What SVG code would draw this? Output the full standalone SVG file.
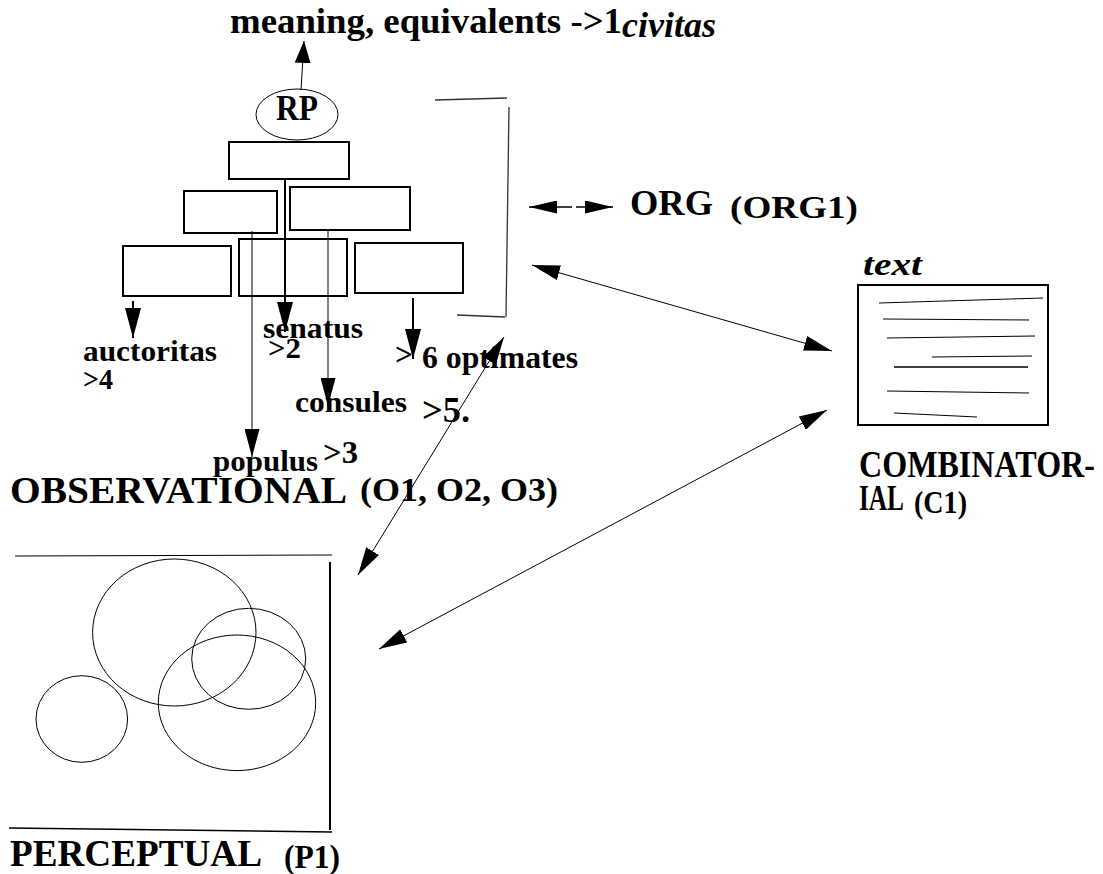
<svg xmlns="http://www.w3.org/2000/svg" width="1103" height="874" viewBox="0 0 1103 874">
  <style>
    .t { font-family: "Liberation Serif", "Times New Roman", serif; font-weight: bold; fill: #000; }
    .it { font-style: italic; }
    .box { fill: none; stroke: #000; stroke-width: 2; }
    .thin { fill: none; stroke: #000; stroke-width: 1; }
    .bracket { fill: none; stroke: #333; stroke-width: 1.3; }
    .stem { fill: none; stroke: #000; stroke-width: 2; }
  </style>
  <defs>
    <marker id="head" markerUnits="userSpaceOnUse" viewBox="0 0 30 16" markerWidth="30" markerHeight="16" refX="30" refY="8" orient="auto-start-reverse">
      <path d="M0,0 L30,8 L0,16 Z" fill="#000"/>
    </marker>
    <marker id="headThin" markerUnits="userSpaceOnUse" viewBox="0 0 28 15" markerWidth="28" markerHeight="15" refX="28" refY="7.5" orient="auto-start-reverse">
      <path d="M0,0 L28,7.5 L0,15 Z" fill="#000"/>
    </marker>
    <marker id="headShort" markerUnits="userSpaceOnUse" viewBox="0 0 22 16" markerWidth="22" markerHeight="16" refX="22" refY="8" orient="auto-start-reverse">
      <path d="M0,0 L22,8 L0,16 Z" fill="#000"/>
    </marker>
    <marker id="headFlat" markerUnits="userSpaceOnUse" viewBox="0 0 28 13" markerWidth="28" markerHeight="13" refX="28" refY="6.5" orient="auto-start-reverse">
      <path d="M0,0 L28,6.5 L0,13 Z" fill="#000"/>
    </marker>
  </defs>

  <!-- title -->
  <g id="title">
    <text class="t" x="230" y="33" font-size="36" textLength="392" lengthAdjust="spacingAndGlyphs">meaning, equivalents -&gt;1</text>
    <text class="t it" x="622" y="37" font-size="36" textLength="94" lengthAdjust="spacingAndGlyphs">civitas</text>
  </g>

  <!-- RP hierarchy -->
  <g id="rp">
    <ellipse class="thin" cx="297" cy="114.5" rx="41" ry="25.5"/>
    <text class="t" x="276" y="120" font-size="36" textLength="42" lengthAdjust="spacingAndGlyphs">RP</text>
  </g>
  <g id="tree">
    <rect class="box" x="229" y="142" width="120" height="37"/>
    <rect class="box" x="184" y="191" width="93" height="42"/>
    <rect class="box" x="290" y="187" width="120" height="43"/>
    <rect class="box" x="123" y="246" width="108" height="50"/>
    <rect class="box" x="239" y="239" width="108" height="57"/>
    <rect class="box" x="355" y="243" width="108" height="50"/>
  </g>
  <g id="bracket">
    <path class="bracket" d="M435,100 L507,98"/>
    <path class="bracket" d="M509,107 L506,317"/>
    <path class="bracket" d="M457,315 L505,317"/>
  </g>

  <!-- labels under the tree -->
  <g id="labels">
    <text class="t" x="83" y="361" font-size="30" textLength="134" lengthAdjust="spacingAndGlyphs">auctoritas</text>
    <text class="t" x="83" y="389" font-size="30" textLength="30" lengthAdjust="spacingAndGlyphs">&gt;4</text>
    <text class="t" x="263" y="338" font-size="30" textLength="100" lengthAdjust="spacingAndGlyphs">senatus</text>
    <text class="t" x="268" y="358" font-size="30" textLength="33" lengthAdjust="spacingAndGlyphs">&gt;2</text>
    <text class="t" x="395" y="365" font-size="32" textLength="18" lengthAdjust="spacingAndGlyphs">&gt;</text>
    <text class="t" x="422" y="368" font-size="32" textLength="156" lengthAdjust="spacingAndGlyphs">6 optimates</text>
    <text class="t" x="295" y="412" font-size="30" textLength="112" lengthAdjust="spacingAndGlyphs">consules</text>
    <text class="t" x="422" y="422" font-size="36" textLength="48" lengthAdjust="spacingAndGlyphs">&gt;5.</text>
    <text class="t" x="213" y="471" font-size="30" textLength="105" lengthAdjust="spacingAndGlyphs">populus</text>
    <text class="t" x="323" y="463" font-size="32" textLength="35" lengthAdjust="spacingAndGlyphs">&gt;3</text>
  </g>

  <g id="observational">
    <text class="t" x="10" y="503" font-size="38" textLength="337" lengthAdjust="spacingAndGlyphs">OBSERVATIONAL</text>
    <text class="t" x="360" y="501" font-size="34" textLength="198" lengthAdjust="spacingAndGlyphs">(O1, O2, O3)</text>
  </g>

  <g id="org">
    <text class="t" x="630" y="215" font-size="36" textLength="83" lengthAdjust="spacingAndGlyphs">ORG</text>
    <text class="t" x="730" y="218" font-size="32" textLength="128" lengthAdjust="spacingAndGlyphs">(ORG1)</text>
  </g>

  <!-- combinatorial: a page of text -->
  <g id="combinatorial">
    <text class="t it" x="863" y="275" font-size="32" textLength="59" lengthAdjust="spacingAndGlyphs">text</text>
    <rect class="box" x="858" y="285" width="190" height="140"/>
    <path class="thin" d="M879,303 L1043,298 M883,319 L1029,320 M887,338 L1035,336 M932,357 L1032,356 M887,391 L1029,393 M894,413 L977,417"/>
    <path d="M894,367 L1028,367" fill="none" stroke="#000" stroke-width="1.6"/>
    <text class="t" x="859" y="477" font-size="37" textLength="236" lengthAdjust="spacingAndGlyphs">COMBINATOR-</text>
    <text class="t" x="859" y="510" font-size="36" textLength="45" lengthAdjust="spacingAndGlyphs">IAL</text>
    <text class="t" x="914" y="513" font-size="32" textLength="53" lengthAdjust="spacingAndGlyphs">(C1)</text>
  </g>

  <!-- perceptual: overlapping fields -->
  <g id="perceptual">
    <path class="thin" d="M15,556 L332,555"/>
    <path d="M330,562 L330,830" fill="none" stroke="#000" stroke-width="2"/>
    <path d="M9,828 L332,832" fill="none" stroke="#000" stroke-width="1.4"/>
    <ellipse class="thin" cx="174.3" cy="632.5" rx="81.7" ry="73.5"/>
    <ellipse class="thin" cx="248.7" cy="658.8" rx="57" ry="50.5"/>
    <ellipse class="thin" cx="237" cy="702.8" rx="78.7" ry="67.8"/>
    <ellipse class="thin" cx="81.8" cy="719" rx="45.8" ry="43.3"/>
    <text class="t" x="10" y="866" font-size="38" textLength="252" lengthAdjust="spacingAndGlyphs">PERCEPTUAL</text>
    <text class="t" x="284" y="868" font-size="34" textLength="56" lengthAdjust="spacingAndGlyphs">(P1)</text>
  </g>

  <!-- connectors -->
  <g id="connectors">
    <path class="thin" d="M301,90 L304,41" marker-end="url(#headShort)"/>
    <path class="stem" d="M285,179 L285,332" marker-end="url(#head)"/>
    <path class="stem" d="M133,301 L133,338" marker-end="url(#head)"/>
    <path class="stem" d="M413,298 L413,359" marker-end="url(#head)"/>
    <path class="thin" d="M252,231 L252,457" marker-end="url(#headThin)"/>
    <path class="thin" d="M328,231 L328,406" marker-end="url(#headThin)"/>
    <!-- ORG link: dashed, two heads -->
    <path d="M529,207 L558,207" fill="none" stroke="#000" stroke-width="1.5" marker-start="url(#headFlat)"/>
    <path d="M558,207 L572,207 M576,207 L584,207" fill="none" stroke="#000" stroke-width="1.5"/>
    <path d="M584,207 L613,207" fill="none" stroke="#000" stroke-width="1.5" marker-end="url(#headFlat)"/>
    <!-- links between the three fields -->
    <path class="thin" d="M532,265 L832,351" marker-start="url(#headThin)" marker-end="url(#headThin)"/>
    <path class="thin" d="M504,337 L358,575" marker-start="url(#headThin)" marker-end="url(#headThin)"/>
    <path class="thin" d="M827,410 L379,649" marker-start="url(#headThin)" marker-end="url(#headThin)"/>
  </g>
</svg>
